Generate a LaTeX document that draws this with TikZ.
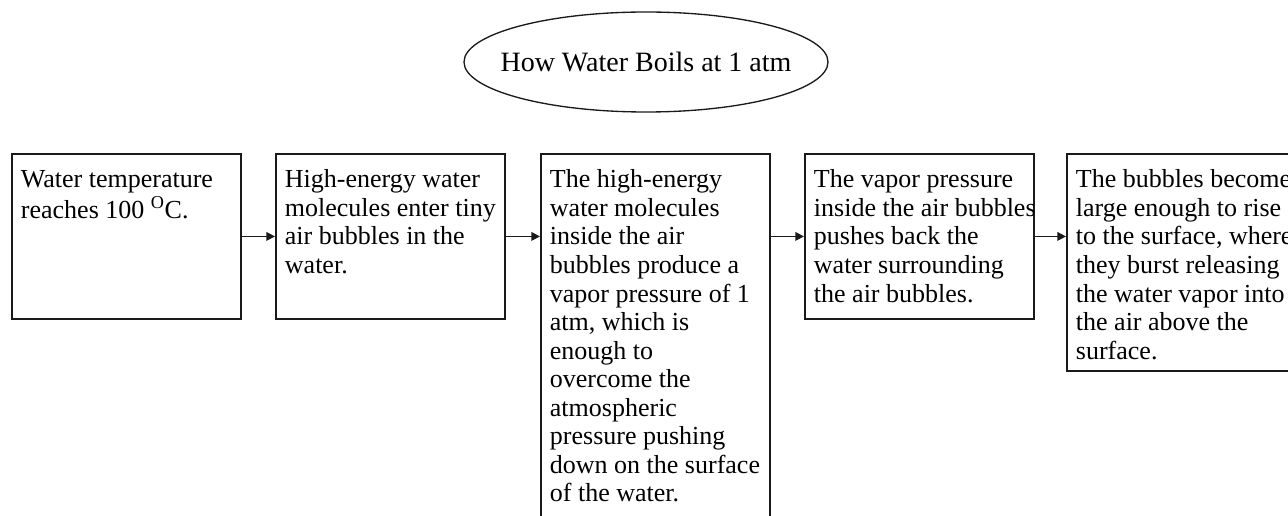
\documentclass[tikz,border=0pt]{standalone}
\usepackage{fontspec}
\setmainfont{Liberation Serif}
\usepackage{tikz}
\usetikzlibrary{arrows.meta,positioning,shapes.geometric}
\definecolor{LineGray}{HTML}{1A1A1A}
\newcommand{\stepbody}[2]{\parbox[t][#1][t]{158.25pt}{\begin{tabular}[t]{@{}l@{}}#2\end{tabular}}}
\hfuzz=30pt \vfuzz=20pt \hbadness=10000 \vbadness=10000

\begin{document}
\begin{tikzpicture}[x=0.75pt,y=-0.75pt,
  stepbox/.style={draw=LineGray,line width=1.4pt,anchor=north west,inner xsep=6.75pt,inner ysep=10.5pt,font=\fontsize{19.5}{21.4}\selectfont},
  flow/.style={draw=LineGray,line width=1.1pt,-{Triangle[length=6.5pt,width=6.5pt]}}]
  \useasboundingbox (0,0) rectangle (1288,516);
  \clip (0,0) rectangle (1288,516);
  \node[font=\fontsize{21}{24}\selectfont] (title) at (646,62) {How Water Boils at 1 atm};
  \draw[LineGray,line width=1pt] (title.center) ellipse [x radius=136.5pt,y radius=37.5pt];

  \node[stepbox] (reach) at (11,153) {\stepbody{102.75pt}{Water temperature\\ reaches 100 \textsuperscript{O}C.}};
  \node[stepbox] (enter) at (275,153) {\stepbody{102.75pt}{High-energy water\\ molecules enter tiny\\ air bubbles in the\\ water.}};
  \node[stepbox] (press) at (540,153) {\stepbody{269.25pt}{The high-energy\\ water molecules\\ inside the air\\ bubbles produce a\\ vapor pressure of 1\\ atm, which is\\ enough to\\ overcome the\\ atmospheric\\ pressure pushing\\ down on the surface\\ of the water.}};
  \node[stepbox] (push) at (804,153) {\stepbody{102.75pt}{The vapor pressure\\ inside the air bubbles\\ pushes back the\\ water surrounding\\ the air bubbles.}};
  \node[stepbox] (rise) at (1066,153) {\stepbody{141.75pt}{The bubbles become\\ large enough to rise\\ to the surface, where\\ they burst releasing\\ the water vapor into\\ the air above the\\ surface.}};

  \draw[flow] (reach.east) -- (reach.east -| enter.west);
  \draw[flow] (enter.east) -- (enter.east -| press.west);
  \draw[flow] (push.west -| press.east) -- (push.west);
  \draw[flow] (push.east) -- (push.east -| rise.west);
\end{tikzpicture}
\end{document}
